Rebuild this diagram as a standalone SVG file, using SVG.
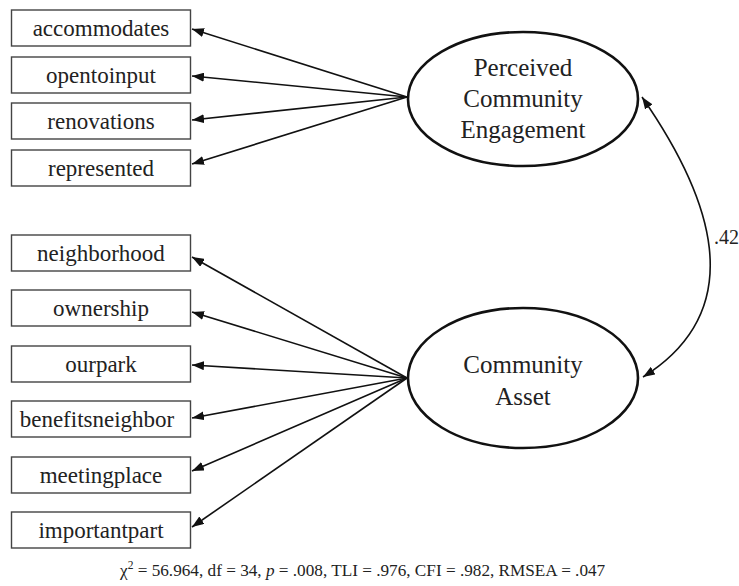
<svg xmlns="http://www.w3.org/2000/svg" width="739" height="586" viewBox="0 0 739 586">
<defs>
<style>
.box{fill:#fff;stroke:#444;stroke-width:1.4}
.lbl{font-family:"Liberation Serif","Times New Roman",serif;font-size:23px;fill:#222;text-anchor:middle}
.lat{fill:#fff;stroke:#111;stroke-width:2.6}
.lt{font-family:"Liberation Serif","Times New Roman",serif;font-size:25px;fill:#222;text-anchor:middle}
.ln{fill:none;stroke:#111;stroke-width:1.6;marker-end:url(#ah)}
.cv{fill:none;stroke:#111;stroke-width:1.6;marker-start:url(#ah2);marker-end:url(#ah2)}
.cap{font-family:"Liberation Serif","Times New Roman",serif;font-size:17.2px;fill:#222}
</style>
<marker id="ah" viewBox="0 0 12 9" refX="12" refY="4.5" markerWidth="12" markerHeight="9" markerUnits="userSpaceOnUse" orient="auto">
<path d="M0,0 L12,4.5 L0,9 z" fill="#111"/>
</marker>
<marker id="ah2" viewBox="0 0 12 9" refX="12" refY="4.5" markerWidth="12" markerHeight="9" markerUnits="userSpaceOnUse" orient="auto-start-reverse">
<path d="M0,0 L12,4.5 L0,9 z" fill="#111"/>
</marker>
</defs>
<rect width="739" height="586" fill="#fff"/>
<g id="connectors">
<line class="ln" x1="407" y1="97" x2="192" y2="29"/>
<line class="ln" x1="407" y1="97" x2="192" y2="76"/>
<line class="ln" x1="407" y1="97" x2="192" y2="120"/>
<line class="ln" x1="407" y1="97" x2="192" y2="164"/>
<line class="ln" x1="407" y1="378" x2="192" y2="257"/>
<line class="ln" x1="407" y1="378" x2="192" y2="312"/>
<line class="ln" x1="407" y1="378" x2="192" y2="365"/>
<line class="ln" x1="407" y1="378" x2="192" y2="418"/>
<line class="ln" x1="407" y1="378" x2="192" y2="471"/>
<line class="ln" x1="407" y1="378" x2="192" y2="527"/>
<path class="cv" d="M642,97 C710,195 753,308 643,377"/>
<text x="714" y="244" font-family="Liberation Serif, Times New Roman, serif" font-size="20" fill="#222">.42</text>
</g>
<g id="accommodates"><rect class="box" x="11.5" y="10" width="179" height="36"/><text class="lbl" x="101" y="36">accommodates</text></g>
<g id="opentoinput"><rect class="box" x="11.5" y="57" width="179" height="36"/><text class="lbl" x="101" y="83">opentoinput</text></g>
<g id="renovations"><rect class="box" x="11.5" y="103" width="179" height="36"/><text class="lbl" x="101" y="129">renovations</text></g>
<g id="represented"><rect class="box" x="11.5" y="150" width="179" height="36"/><text class="lbl" x="101" y="176">represented</text></g>
<g id="neighborhood"><rect class="box" x="11.5" y="235" width="179" height="36"/><text class="lbl" x="101" y="261">neighborhood</text></g>
<g id="ownership"><rect class="box" x="11.5" y="290" width="179" height="36"/><text class="lbl" x="101" y="316">ownership</text></g>
<g id="ourpark"><rect class="box" x="11.5" y="346" width="179" height="36"/><text class="lbl" x="101" y="372">ourpark</text></g>
<g id="benefitsneighbor"><rect class="box" x="11.5" y="401" width="179" height="36"/><text class="lbl" x="97" y="427">benefitsneighbor</text></g>
<g id="meetingplace"><rect class="box" x="11.5" y="457" width="179" height="36"/><text class="lbl" x="101" y="483">meetingplace</text></g>
<g id="importantpart"><rect class="box" x="11.5" y="512" width="179" height="36"/><text class="lbl" x="101" y="538">importantpart</text></g>
<g id="engagement"><ellipse class="lat" cx="523" cy="99" rx="115" ry="67"/>
<text class="lt" x="523" y="76">Perceived</text><text class="lt" x="523" y="107">Community</text><text class="lt" x="523" y="138">Engagement</text></g>
<g id="asset"><ellipse class="lat" cx="523" cy="378" rx="115" ry="70"/>
<text class="lt" x="523" y="373">Community</text><text class="lt" x="523" y="405">Asset</text></g>
<text class="cap" x="120" y="576">χ<tspan font-size="11.5" dy="-7">2</tspan><tspan dy="7"> = 56.964, df = 34, </tspan><tspan font-style="italic">p</tspan> = .008, TLI = .976, CFI = .982, RMSEA = .047</text>
</svg>
